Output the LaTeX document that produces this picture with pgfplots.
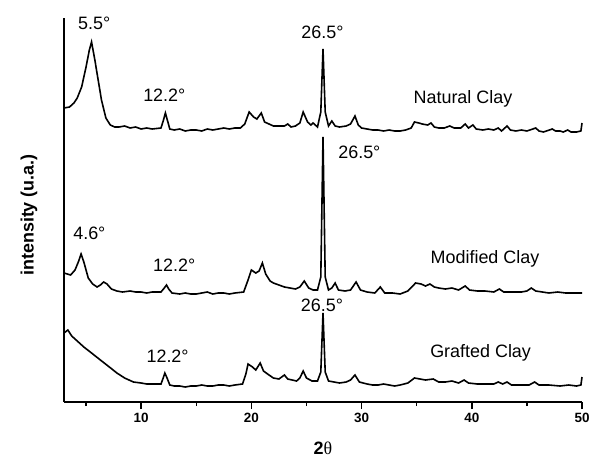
\documentclass[border=0pt]{standalone}
\usepackage{pgfplots}
\pgfplotsset{compat=1.18}
\usepackage{fontspec}
\setmainfont{Liberation Sans}
\newfontfamily\serifgreek{Liberation Serif}

\pgfplotstableread{
x y
3.0 294
3.5 295
3.9 299
4.2 304
4.6 315
5.0 335
5.3 352
5.5 360
5.8 342
6.1 322
6.4 302
6.8 284
7.2 277
7.6 275
8.0 275
8.5 276
9.0 274
9.5 275
10.0 273
10.5 274
11.0 273
11.8 274
12.0 281
12.2 289
12.4 281
12.6 273
13.0 272
13.5 273
14.0 271
14.5 272
15.0 272
15.5 271
16.0 273
16.5 272
17.0 273
17.5 274
18.0 273
18.5 274
19.0 274
19.4 278
19.8 290
20.2 285
20.5 283
20.9 289
21.2 280
21.6 278
22.0 276
22.5 276
23.0 276
23.3 278
23.6 275
24.0 276
24.4 279
24.7 290
25.1 280
25.4 277
25.6 279
26.0 275
26.3 290
26.5 353
26.7 290
27.0 276
27.3 281
27.6 276
28.0 275
28.6 276
29.0 278
29.4 286
29.7 277
30.0 274
30.5 273
31.0 272
31.5 272
32.0 271
32.5 272
33.0 271
33.5 271
34.0 272
34.5 274
34.8 280
35.2 279
35.5 278
36.0 277
36.3 279
36.6 275
37.0 274
37.5 274
38.0 276
38.4 274
39.0 274
39.4 278
39.7 274
40.1 277
40.4 273
41.0 272
41.5 273
42.0 272
42.4 274
42.7 271
43.2 276
43.5 272
44.0 271
44.5 272
45.0 271
45.8 274
46.1 271
46.5 270
47.3 273
47.6 271
48.0 271
48.3 270
48.7 272
49.0 270
49.5 270
49.9 271
50.0 279
}\natural

\pgfplotstableread{
x y
3.0 129
3.3 128
3.6 127
4.0 132
4.3 140
4.55 148
4.8 140
5.2 124
5.6 118
6.0 115
6.3 117
6.6 120
6.9 118
7.3 113
7.8 111
8.3 110
9.0 111
9.5 110
10.0 110
10.5 109
11.0 110
11.8 110
12.1 114
12.3 117
12.5 113
12.8 109
13.5 108
14.0 109
14.5 108
15.0 108
15.5 109
16.0 110
16.5 108
17.0 109
17.5 109
18.0 108
18.5 109
19.3 110
19.7 122
20.0 132
20.4 129
20.7 131
21.0 139
21.3 128
21.7 121
22.0 119
22.5 117
23.0 115
23.5 114
24.0 113
24.4 115
24.8 121
25.2 114
25.6 112
26.0 112
26.3 125
26.5 265
26.7 125
27.0 112
27.3 114
27.6 119
27.9 112
28.5 111
29.0 112
29.5 120
29.9 112
30.5 110
31.2 109
31.7 115
32.1 109
32.8 109
33.5 108
34.2 111
34.9 119
35.4 118
35.8 116
36.2 118
36.6 115
37.0 114
37.6 113
38.2 114
38.8 112
39.4 116
39.8 112
40.5 111
41.2 111
42.0 110
42.5 113
42.9 110
43.6 110
44.5 110
45.0 111
45.4 114
45.8 111
46.4 110
47.0 109
47.8 110
48.5 109
49.2 109
50.0 109
}\modified

\pgfplotstableread{
x y
3.0 69
3.35 72
3.7 66
4.2 61
4.8 55
5.5 49
6.3 42
7.0 36
7.8 29
8.5 24
9.3 20
10.0 19
10.5 18
11.0 18
11.8 18
12.0 24
12.15 29
12.35 24
12.6 17
13.0 16
13.5 16
14.0 15
14.5 16
15.0 16
15.5 17
16.0 16
16.5 16
17.0 17
17.5 17
18.0 16
18.5 17
19.2 18
19.5 28
19.7 38
20.1 35
20.4 32
20.8 39
21.1 31
21.6 27
22.0 24
22.5 23
23.0 27
23.3 23
23.7 22
24.1 21
24.4 24
24.7 31
25.0 24
25.5 21
26.0 21
26.3 30
26.5 89
26.7 30
27.0 21
27.5 20
28.0 19
28.6 20
29.0 22
29.4 27
29.8 20
30.5 18
31.0 17
31.5 17
32.0 18
32.5 17
33.0 16
33.5 17
34.2 19
34.8 24
35.3 23
35.8 22
36.5 23
37.0 20
37.6 20
38.2 21
38.8 19
39.3 22
39.7 19
40.5 18
41.3 18
42.0 18
42.4 20
42.8 18
43.2 20
43.6 17
44.5 17
45.2 17
45.7 20
46.1 17
47.0 17
48.0 16
48.8 17
49.5 16
49.9 17
50.0 25
}\grafted

\begin{document}
\begin{tikzpicture}
\begin{axis}[
    scale only axis,
    width=518bp, height=384bp,
    xmin=3, xmax=50, ymin=0, ymax=384,
    axis x line=bottom, axis y line=left,
    axis line style={line width=1.7bp, -},
    xtick={10,20,30,40,50},
    minor xtick={5,15,25,35,45},
    ytick=\empty,
    tick align=outside,
    major tick length=7bp, minor tick length=4bp,
    every tick/.style={line width=1.5bp, black},
    /pgf/number format/assume math mode=true,
    xticklabel style={font=\fontsize{13.5}{14}\selectfont\bfseries, yshift=-1bp},
    xlabel={\textbf{2}{\serifgreek θ}},
    x label style={at={(axis description cs:0.5,-0.12)}, anchor=center, font=\fontsize{18}{19}\selectfont},
    ylabel={intensity (u.a.)},
    y label style={at={(axis description cs:-0.0676,0.487)}, anchor=center, font=\fontsize{18}{19}\selectfont\bfseries},
    clip=false,
]
\addplot[black, line width=1.6bp] table {\natural};
\addplot[black, line width=1.6bp] table {\modified};
\addplot[black, line width=1.6bp] table {\grafted};

\begin{scope}[every node/.style={font=\fontsize{18}{19}\selectfont}]
\node at (axis cs:5.74,379) {5.5°};
\node at (axis cs:12.1,307) {12.2°};
\node at (axis cs:26.45,370) {26.5°};
\node at (axis cs:39.2,303) {Natural Clay};
\node at (axis cs:29.8,250) {26.5°};
\node at (axis cs:5.3,169) {4.6°};
\node at (axis cs:13.0,137) {12.2°};
\node at (axis cs:41.2,143) {Modified Clay};
\node at (axis cs:26.4,97) {26.5°};
\node at (axis cs:12.4,46) {12.2°};
\node at (axis cs:40.8,49) {Grafted Clay};
\end{scope}
\end{axis}
\pgfresetboundingbox
\path[use as bounding box] ([xshift=-64bp,yshift=-57bp]current axis.south west) rectangle ([xshift=8bp,yshift=18bp]current axis.north east);
\end{tikzpicture}
\end{document}
